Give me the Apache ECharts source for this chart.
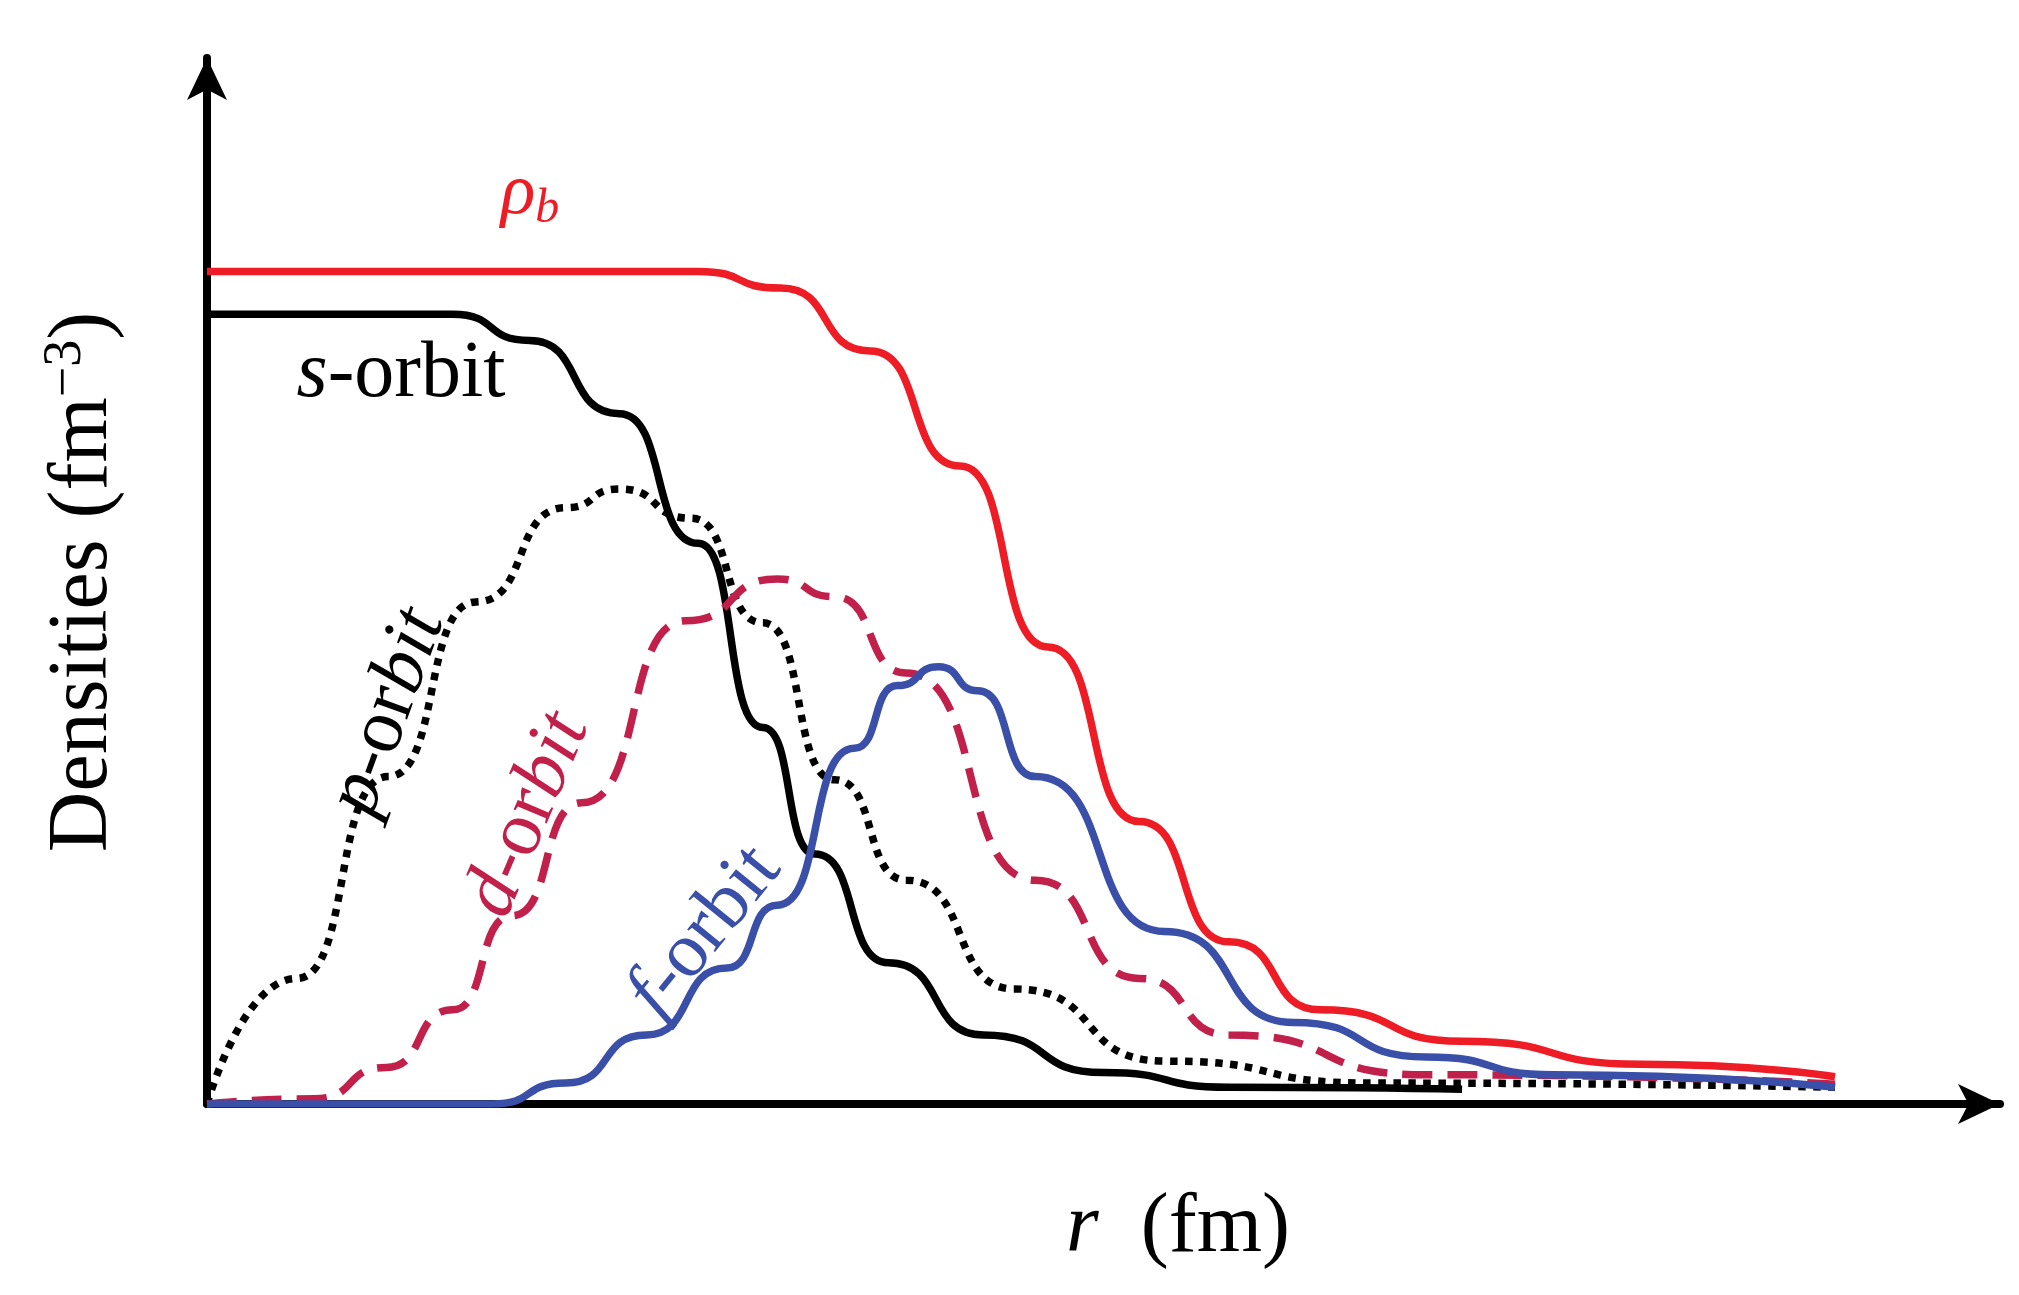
<!DOCTYPE html>
<html><head><meta charset="utf-8">
<script src="https://cdn.jsdelivr.net/npm/echarts@6/dist/echarts.min.js"></script>
<style>html,body{margin:0;background:#fff}#main{width:2019px;height:1295px}</style>
</head><body><div id="main"></div>
<script>
// curves, x and y in arbitrary units (axis 0..10)
var rhoB = [[0,7.96],[2.74,7.96],[3.2,7.8],[3.7,7.2],[4.2,6.1],[4.69,4.37],[5.2,2.7],[5.7,1.55],[6.21,0.9],[7,0.6],[8,0.38],[9.08,0.26]];
var sOrbit = [[0,7.55],[1.37,7.55],[1.8,7.3],[2.3,6.6],[2.74,5.36],[3.1,3.6],[3.39,2.39],[3.8,1.35],[4.33,0.66],[5,0.3],[5.7,0.16],[7.0,0.14]];
var pOrbit = [[0,0],[0.5,1.2],[1.01,3.13],[1.5,4.8],[2.0,5.7],[2.3,5.88],[2.7,5.6],[3.1,4.6],[3.5,3.1],[3.9,2.14],[4.5,1.1],[5.34,0.41],[6.5,0.2],[9.08,0.16]];
var dOrbit = [[0,0],[0.6,0.05],[1.0,0.35],[1.37,0.9],[1.7,1.8],[2.09,2.88],[2.67,4.62],[3.18,5.02],[3.5,4.85],[3.9,4.12],[4.62,2.14],[5.2,1.2],[5.7,0.66],[6.79,0.28],[9.08,0.19]];
var fOrbit = [[0,0],[1.59,0],[2.0,0.2],[2.45,0.66],[2.9,1.3],[3.18,1.9],[3.61,3.4],[3.85,4.0],[4.08,4.18],[4.3,3.95],[4.62,3.13],[5.34,1.65],[6.06,0.78],[6.8,0.45],[7.51,0.28],[9.08,0.16]];

var chart = echarts.init(document.getElementById('main'));
var serif = 'Liberation Serif';
function line(data, color, type){
  return {type:'line', data:data, smooth:0.6, smoothMonotone:'x', showSymbol:false, silent:true,
    lineStyle:{color:color, width:7.5, type:type||'solid'}};
}
chart.setOption({
  animation:false,
  grid:{left:207, right:19, top:58, bottom:191},
  xAxis:{type:'value', min:0, max:10, splitLine:{show:false}, axisTick:{show:false}, axisLabel:{show:false},
    axisLine:{lineStyle:{color:'#000', width:8}, symbol:['none','arrow'], symbolSize:[30,42]}},
  yAxis:{type:'value', min:0, max:10, splitLine:{show:false}, axisTick:{show:false}, axisLabel:{show:false},
    axisLine:{lineStyle:{color:'#000', width:8}, symbol:['none','arrow'], symbolSize:[30,42]}},
  series:[
    line(sOrbit,'#000'),
    line(pOrbit,'#000','dotted'),
    line(dOrbit,'#c0204a','dashed'),
    line(fOrbit,'#3a4fa8'),
    line(rhoB,'#ee1c25')
  ],
  graphic:[
    {type:'text', x:530, y:194, style:{text:'{a|ρ}{b|b}', align:'center', verticalAlign:'middle', fill:'#ee1c25',
      rich:{a:{fontFamily:serif, fontStyle:'italic', fontSize:72, fill:'#ee1c25'}, b:{fontFamily:serif, fontStyle:'italic', fontSize:48, fill:'#ee1c25', padding:[30,0,0,0]}}}},
    {type:'text', x:401, y:375, style:{text:'{i|s}{n|-orbit}', align:'center', verticalAlign:'middle', fill:'#000',
      rich:{i:{fontFamily:serif, fontStyle:'italic', fontSize:80, fill:'#000'}, n:{fontFamily:serif, fontSize:80, fill:'#000'}}}},
    {type:'text', x:388, y:712, rotation:70*Math.PI/180, style:{text:'{i|p}{n|-or}{i|bit}', align:'center', verticalAlign:'middle', fill:'#000',
      rich:{i:{fontFamily:serif, fontStyle:'italic', fontSize:78, fill:'#000'}, n:{fontFamily:serif, fontSize:78, fill:'#000'}}}},
    {type:'text', x:528, y:815, rotation:67*Math.PI/180, style:{text:'{i|d}{n|-or}{i|bit}', align:'center', verticalAlign:'middle', fill:'#c0204a',
      rich:{i:{fontFamily:serif, fontStyle:'italic', fontSize:78, fill:'#c0204a'}, n:{fontFamily:serif, fontSize:78, fill:'#c0204a'}}}},
    {type:'text', x:705, y:932, rotation:51*Math.PI/180, style:{text:'{i|f}{n|-orbit}', align:'center', verticalAlign:'middle', fill:'#3a4fa8',
      rich:{i:{fontFamily:serif, fontStyle:'italic', fontSize:78, fill:'#3a4fa8'}, n:{fontFamily:serif, fontSize:78, fill:'#3a4fa8'}}}},
    {type:'text', x:84, y:582, rotation:Math.PI/2, style:{text:'{n|Densities (fm}{s|−3}{n|)}', align:'center', verticalAlign:'middle', fill:'#000',
      rich:{n:{fontFamily:serif, fontSize:84, fill:'#000'}, s:{fontFamily:serif, fontSize:54, fill:'#000', padding:[0,0,36,0]}}}},
    {type:'text', x:1178, y:1229, style:{text:'{i|r}{n|  (fm)}', align:'center', verticalAlign:'middle', fill:'#000',
      rich:{i:{fontFamily:serif, fontStyle:'italic', fontSize:84, fill:'#000'}, n:{fontFamily:serif, fontSize:84, fill:'#000'}}}}
  ]
});
</script>
</body></html>
